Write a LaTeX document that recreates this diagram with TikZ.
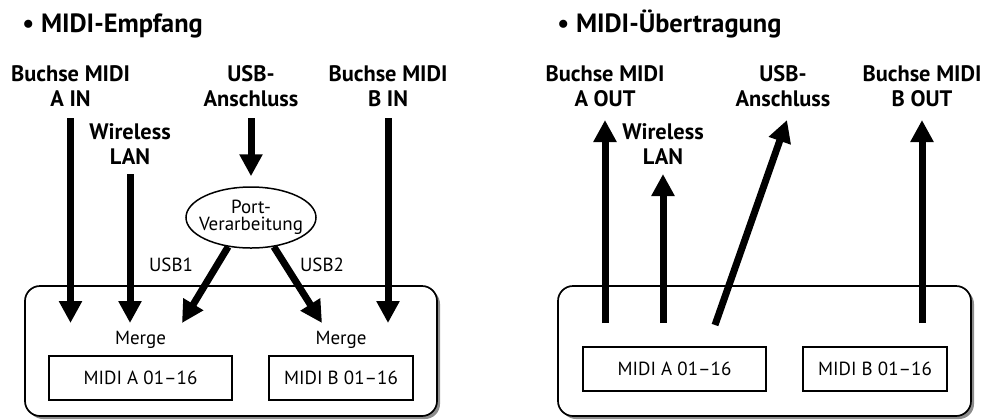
\documentclass[tikz,border=0pt]{standalone}
\usepackage{fontspec}
\setmainfont{PT Sans}
\usetikzlibrary{shapes.geometric, arrows.meta, positioning}
\begin{document}
\begin{tikzpicture}[x=0.5pt, y=-0.5pt]
    \tikzstyle{title} = [font=\fontsize{13.2}{15}\selectfont\bfseries, anchor=base west, inner sep=0]
    \tikzstyle{jack} = [font=\fontsize{11.2}{12.5}\selectfont\bfseries, align=center, inner sep=0]
    \tikzstyle{txt} = [font=\fontsize{9.5}{8.5}\selectfont, align=center, inner sep=0]
    \tikzstyle{frame} = [draw, line width=0.85pt, rounded corners=7.5pt, fill=white, minimum height=65pt]
    \tikzstyle{shade} = [fill=black!45, rounded corners=7.5pt, minimum height=65pt]
    \tikzstyle{block} = [draw, line width=0.75pt, minimum height=22pt, font=\fontsize{9.5}{11}\selectfont]
    \tikzstyle{line} = [draw, line width=3.5pt, -{Triangle[width=11pt, length=11pt]}]

    \useasboundingbox (0,0) rectangle (985,419);

    \coordinate (inrow) at (0,118);
    \coordinate (outrow) at (0,120);
    \coordinate (lanrow) at (0,174);
    \coordinate (lowrow) at (0,323);

    \node [title] (rxtitle) at (22,32) {• MIDI-Empfang};
    \node [title] (txtitle) at (557,32) {• MIDI-Übertragung};

    \node [shade, minimum width=206pt] (rxshade) at (234,354) {};
    \node [frame, minimum width=206pt] (rx) at (231,351) {};
    \node [shade, minimum width=206.5pt] (txshade) at (767.5,354) {};
    \node [frame, minimum width=206.5pt] (tx) at (764.5,351) {};

    \node [block, minimum width=91.5pt] (rxA) at (140.5,378) {MIDI A 01–16};
    \node [block, minimum width=72pt] (rxB) at (341,378) {MIDI B 01–16};
    \node [txt, above=3pt of rxA] (mergeA) {Merge};
    \node [txt, above=3pt of rxB] (mergeB) {Merge};
    \node [block, minimum width=91.5pt] (txA) at (674.5,369) {MIDI A 01–16};
    \node [block, minimum width=72pt] (txB) at (875,369) {MIDI B 01–16};

    \node [jack] (ain) at (70.5,86) {Buchse MIDI\\A IN};
    \node [jack] (wlanin) at (130,144) {Wireless\\LAN};
    \node [jack] (usbin) at (251,86) {USB-\\Anschluss};
    \node [jack] (bin) at (388,86) {Buchse MIDI\\B IN};
    \node [draw, ellipse, line width=0.75pt, minimum width=65pt, minimum height=30.5pt, inner sep=0] (port) at (251,217.5) {};
    \node [txt] (porttext) at (port) {Port-\\Verarbeitung};
    \node [txt] (usb1) at (171,265) {USB1};
    \node [txt] (usb2) at (322,265) {USB2};
    \coordinate (usb1end) at (182,323);
    \coordinate (usb2end) at (322,323);

    \node [jack] (aout) at (605,86) {Buchse MIDI\\A OUT};
    \node [jack] (wlanout) at (663,144) {Wireless\\LAN};
    \node [jack] (usbout) at (783,86) {USB-\\Anschluss};
    \node [jack] (bout) at (922,86) {Buchse MIDI\\B OUT};
    \coordinate (usbfoot) at (715,325);
    \coordinate (usbtip) at (787,120);

    \path [line] (ain |- inrow) -- (ain |- lowrow);
    \path [line] (wlanin |- lanrow) -- (wlanin |- lowrow);
    \path [line] (bin |- inrow) -- (bin |- lowrow);
    \path [line, shorten >=5pt] (usbin |- inrow) -- (port.north);
    \path [line] (port.232) -- (usb1end);
    \path [line] (port.308) -- (usb2end);

    \path [line] (aout |- lowrow) -- (aout |- outrow);
    \path [line] (wlanout |- lowrow) -- (wlanout |- lanrow);
    \path [line] (usbfoot) -- (usbtip);
    \path [line] (bout |- lowrow) -- (bout |- outrow);
\end{tikzpicture}
\end{document}
